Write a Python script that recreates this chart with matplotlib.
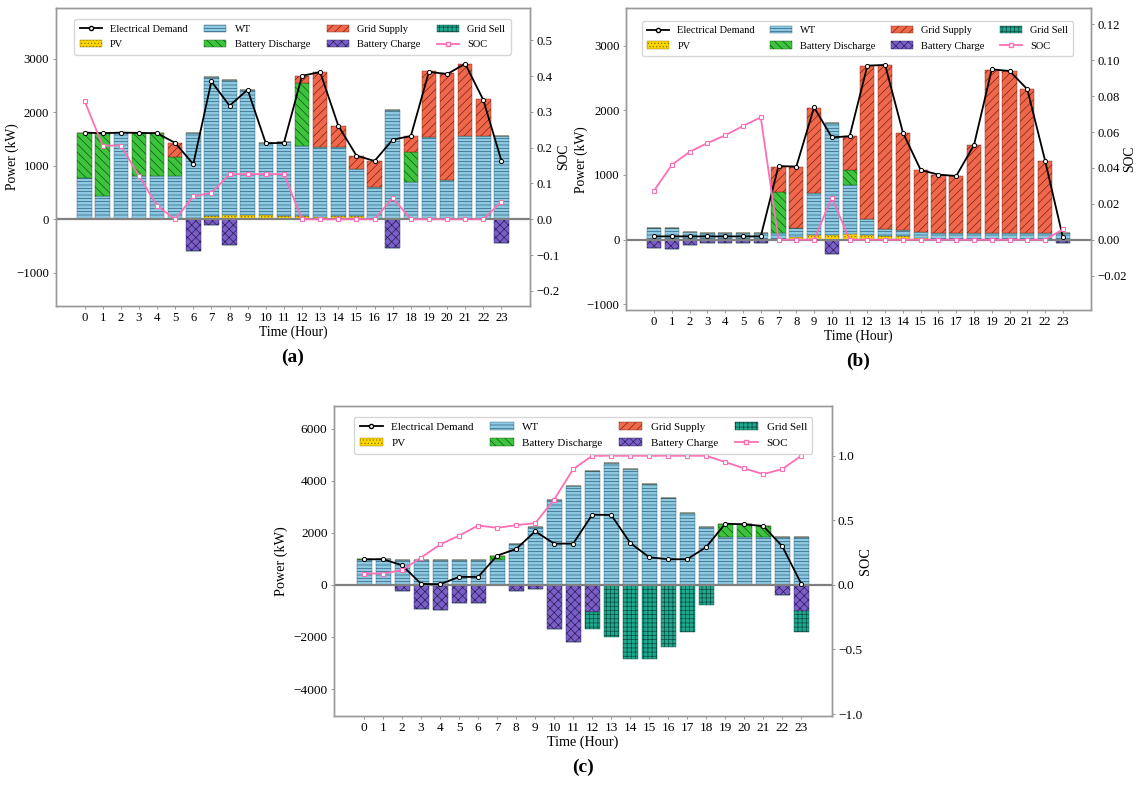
import numpy as np
import matplotlib.pyplot as plt
from matplotlib.lines import Line2D
from matplotlib.patches import Patch

plt.rcParams['font.family'] = ['Liberation Serif', 'DejaVu Serif']
plt.rcParams['hatch.linewidth'] = 0.5

hours = list(range(24))

# ---- panel (a) ----
pv_a = [0, 0, 0, 0, 0, 0, 15, 65, 80, 80, 80, 70, 55, 45, 55, 55, 10, 0, 0, 0, 0, 0, 0, 0]
wt_a = [780, 437, 1620, 812, 812, 812, 1605, 2593, 2516, 2342, 1349, 1377, 1315, 1303, 1302, 885, 600, 2050, 690, 1530, 737, 1563, 1563, 1563]
dis_a = [840, 1173, 0, 803, 797, 358, 0, 0, 0, 0, 0, 0, 1170, 0, 0, 0, 0, 0, 560, 0, 0, 0, 0, 0]
grid_a = [0, 0, 0, 0, 0, 260, 0, 0, 0, 0, 0, 0, 130, 1402, 378, 250, 485, 0, 300, 1240, 2003, 1347, 677, 0]
chg_a = [0, 0, 0, 0, 0, 0, 590, 100, 487, 0, 0, 0, 0, 0, 0, 0, 0, 545, 0, 0, 0, 0, 0, 450]
sell_a = [0] * 24
dem_a = [1621, 1609, 1621, 1615, 1609, 1429, 1031, 2578, 2124, 2422, 1422, 1429, 2683, 2752, 1750, 1190, 1090, 1490, 1555, 2758, 2714, 2907, 2230, 1093]
soc_a = [0.331, 0.206, 0.206, 0.122, 0.038, 0.0, 0.064, 0.074, 0.126, 0.126, 0.126, 0.126, 0, 0, 0, 0, 0, 0.060, 0, 0, 0, 0, 0, 0.049]

# ---- panel (b) ----
pv_b = [0, 0, 0, 0, 0, 0, 0, 15, 40, 65, 70, 80, 70, 60, 50, 20, 0, 0, 0, 0, 0, 0, 0, 0]
wt_b = [175, 186, 113, 98, 98, 98, 98, 85, 140, 662, 1729, 765, 255, 100, 100, 104, 108, 108, 108, 108, 108, 108, 108, 108]
dis_b = [0, 0, 0, 0, 0, 0, 0, 642, 0, 0, 0, 232, 0, 0, 0, 0, 0, 0, 0, 0, 0, 0, 0, 0]
grid_b = [0, 0, 0, 0, 0, 0, 0, 387, 949, 1313, 0, 521, 2366, 2541, 1505, 953, 897, 877, 1356, 2522, 2500, 2217, 1114, 0]
chg_b = [129, 139, 77, 46, 46, 46, 52, 0, 0, 0, 222, 0, 0, 0, 0, 0, 0, 0, 0, 0, 0, 0, 0, 57]
sell_b = [0] * 24
dem_b = [50, 50, 50, 50, 50, 50, 50, 1139, 1129, 2046, 1582, 1598, 2691, 2701, 1655, 1077, 1005, 985, 1464, 2634, 2608, 2325, 1222, 36]
soc_b = [0.0274, 0.0418, 0.049, 0.0539, 0.0582, 0.0634, 0.0682, 0, 0, 0, 0.0235, 0, 0, 0, 0, 0, 0, 0, 0, 0, 0, 0, 0, 0.0058]

# ---- panel (c) ----
pv_c = [0] * 24
wt_c = [960, 980, 958, 958, 958, 958, 958, 946, 1585, 2211, 3272, 3796, 4383, 4677, 4434, 3872, 3335, 2773, 2211, 1853, 1853, 1853, 1853, 1853]
dis_c = [40, 0, 0, 0, 0, 0, 0, 179, 0, 0, 0, 0, 0, 0, 0, 0, 0, 0, 0, 498, 473, 409, 0, 0]
grid_c = [0] * 24
chg_c = [0, 0, 230, 933, 958, 690, 690, 0, 230, 153, 1687, 2211, 1022, 0, 0, 0, 0, 0, 0, 0, 0, 0, 396, 997]
sell_c = [0, 0, 0, 0, 0, 0, 0, 0, 0, 0, 0, 0, 690, 2020, 2840, 2840, 2380, 1815, 770, 0, 0, 0, 0, 830]
dem_c = [984, 984, 754, 38, 25, 307, 307, 1125, 1380, 2058, 1585, 1585, 2696, 2684, 1610, 1061, 984, 984, 1457, 2351, 2326, 2262, 1482, 38]
soc_c = [0.088, 0.088, 0.114, 0.212, 0.313, 0.382, 0.46, 0.442, 0.463, 0.478, 0.661, 0.897, 1, 1, 1, 1, 1, 1, 1, 0.951, 0.902, 0.858, 0.897, 1.0]

# face colour, edge/hatch colour, hatch
styles = {
    'PV': ('#FFD700', '#8a7000', '.....'),
    'WT': ('#8ECBE3', '#2f5f7a', '-----'),
    'Battery Discharge': ('#3DC43D', '#145214', '\\\\\\\\'),
    'Grid Supply': ('#F0684C', '#7a2210', '////'),
    'Battery Charge': ('#7B5FC9', '#2a1d55', 'xxxx'),
    'Grid Sell': ('#1FAA90', '#0b4a3e', '++++'),
}
soc_color = '#FF6EB4'
labels = ['Electrical Demand', 'PV', 'WT', 'Battery Discharge', 'Grid Supply', 'Battery Charge', 'Grid Sell', 'SOC']


def draw(fig, rect, pv, wt, dis, grid, chg, sell, dem, soc, ylim, soc_lim, yticks, soc_ticks, soc_fmt,
         tag, leg_box, ylab_x, soc_x, fs):
    ax = fig.add_axes(rect)
    ax2 = ax.twinx()
    x = np.arange(24)
    w = 0.8
    pv = np.array(pv, float)
    wt = np.array(wt, float)
    dis = np.array(dis, float)
    grid = np.array(grid, float)
    chg = np.array(chg, float)
    sell = np.array(sell, float)

    def bar(vals, bottom, name):
        fc, ec, h = styles[name]
        ax.bar(x, vals, w, bottom=bottom, color=fc, edgecolor=ec, hatch=h, linewidth=0.3)

    bar(pv, 0, 'PV')
    bar(wt, pv, 'WT')
    bar(dis, pv + wt, 'Battery Discharge')
    bar(grid, pv + wt + dis, 'Grid Supply')
    bar(-chg, 0, 'Battery Charge')
    bar(-sell, -chg, 'Grid Sell')

    ax.axhline(0, color='#808080', lw=1.6, zorder=3)
    ax.plot(x, dem, color='black', lw=1.3, marker='o', ms=3, mfc='white', mec='black', mew=0.7, zorder=4)
    ax2.plot(x, soc, color=soc_color, lw=1.3, marker='s', ms=3.5, mfc='white', mec=soc_color, mew=0.8)

    ax.set_xlim(-1.6, 24.6)
    ax.set_ylim(*ylim)
    ax2.set_ylim(*soc_lim)
    ax.set_yticks(yticks)
    ax2.set_yticks(soc_ticks)
    ax2.set_yticklabels([soc_fmt.format(v).replace('-', '\u2212') for v in soc_ticks])
    ax.set_xticks(x)
    ax.set_xticklabels([str(h) for h in hours])
    for a in (ax, ax2):
        a.tick_params(labelsize=fs, length=2.5, width=0.6, color='#888888', pad=2)
        for s in a.spines.values():
            s.set_color('#999999')
            s.set_linewidth(1.0)
    ax.set_xlabel('Time (Hour)', fontsize=fs + 0.6, labelpad=1)
    ax.set_ylabel('Power (kW)', fontsize=fs + 0.6)
    ax.yaxis.set_label_coords(ylab_x, 0.5)
    ax2.set_ylabel('SOC', fontsize=fs + 0.6)
    ax2.yaxis.set_label_coords(soc_x, 0.5)

    handles = [Line2D([], [], color='black', lw=1.3, marker='o', ms=3, mfc='white')]
    for name in ['PV', 'WT', 'Battery Discharge', 'Grid Supply', 'Battery Charge', 'Grid Sell']:
        fc, ec, h = styles[name]
        handles.append(Patch(facecolor=fc, edgecolor=ec, hatch=h, lw=0.3))
    handles.append(Line2D([], [], color=soc_color, lw=1.3, marker='s', ms=3.5, mfc='white', mec=soc_color))
    ax2.legend(handles, labels, loc='upper left', bbox_to_anchor=leg_box, mode='expand', ncol=4,
               fontsize=fs - 1.7, frameon=True, edgecolor='#cccccc', handlelength=2.1,
               borderpad=0.5, labelspacing=0.6, borderaxespad=0.0)

    pos = ax.get_position()
    fig.text(pos.x0 + pos.width / 2, pos.y0 - 0.066, '(' + tag + ')', ha='center', va='center',
             fontsize=14, fontweight='bold')
    return ax, ax2


fig = plt.figure(figsize=(11.42, 7.85), dpi=100)

draw(fig, [0.0486, 0.6106, 0.4159, 0.3792], pv_a, wt_a, dis_a, grid_a, chg_a, sell_a, dem_a, soc_a,
     (-1615, 3950), (-0.2412, 0.59), [-1000, 0, 1000, 2000, 3000],
     [-0.2, -0.1, 0.0, 0.1, 0.2, 0.3, 0.4, 0.5], '{:.1f}', 'a',
     (0.04, 0.5, 0.918, 0.462), -0.077, 1.056, 9.2)
draw(fig, [0.5479, 0.6051, 0.4077, 0.3843], pv_b, wt_b, dis_b, grid_b, chg_b, sell_b, dem_b, soc_b,
     (-1088, 3577), (-0.0392, 0.129), [-1000, 0, 1000, 2000, 3000],
     [-0.02, 0.0, 0.02, 0.04, 0.06, 0.08, 0.10, 0.12], '{:.2f}', 'b',
     (0.035, 0.5, 0.926, 0.459), -0.081, 1.068, 9.2)
draw(fig, [0.2922, 0.0879, 0.4361, 0.3955], pv_c, wt_c, dis_c, grid_c, chg_c, sell_c, dem_c, soc_c,
     (-5035, 6888), (-1.015, 1.389), [-4000, -2000, 0, 2000, 4000, 6000],
     [-1.0, -0.5, 0.0, 0.5, 1.0], '{:.1f}', 'c',
     (0.041, 0.5, 0.92, 0.464), -0.091, 1.054, 9.6)

fig.savefig('out.png', dpi=100)
